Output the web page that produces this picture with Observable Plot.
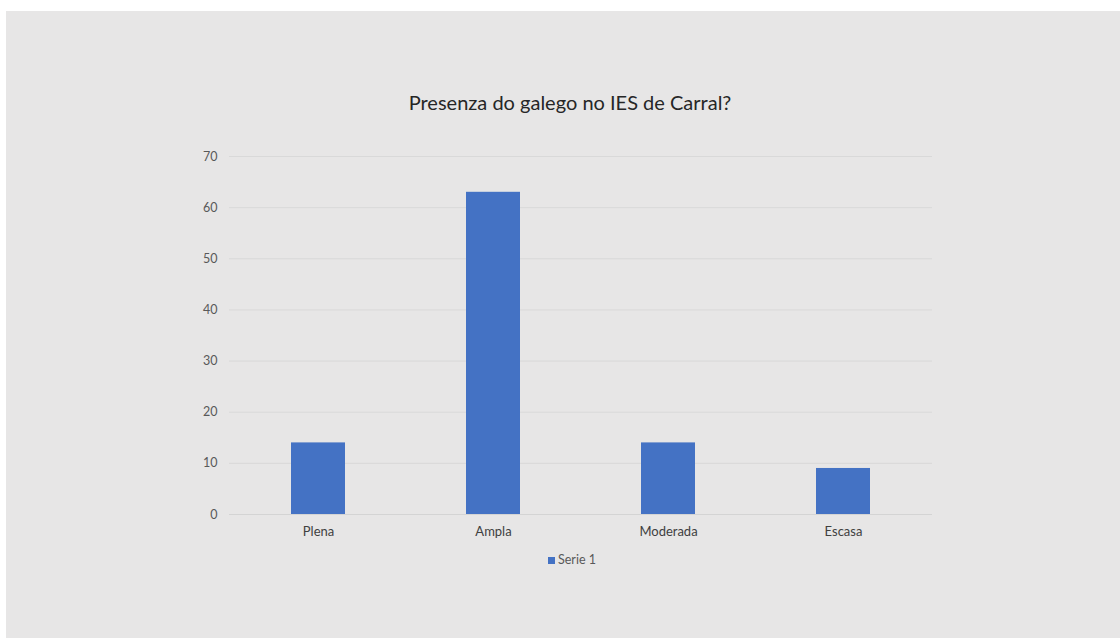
<!DOCTYPE html>
<html>
<head>
<meta charset="utf-8">
<script src="https://cdn.jsdelivr.net/npm/d3@7"></script>
<script src="https://cdn.jsdelivr.net/npm/@observablehq/plot@0.6"></script>
<style>
  html, body { margin: 0; padding: 0; background: #ffffff; }
  #frame { position: absolute; left: 6px; top: 11px; width: 1114px; height: 627px; background: #e7e6e6; overflow: hidden; font-family: Lato, "Open Sans", sans-serif; }
  #title { position: absolute; left: 14px; width: 1100px; top: 79px; text-align: center; font-size: 20px; line-height: 24px; color: #262626; }
  #chart { position: absolute; left: 0; top: 129px; }
  #legend { position: absolute; left: 0; width: 1132px; top: 542px; text-align: center; font-size: 12.5px; color: #595959; line-height: 14px; }
  #legend .sw { display: inline-block; width: 7px; height: 7px; background: #4472c4; margin-right: 3px; vertical-align: 0px; }
</style>
</head>
<body>
<div id="frame">
  <div id="title"></div>
  <div id="chart"></div>
  <div id="legend"></div>
</div>
<script>
const titleText = "Presenza do galego no IES de Carral?";
const categories = ["Plena", "Ampla", "Moderada", "Escasa"];
const values = [14, 63, 14, 9];
const seriesName = "Serie 1";
const yTicks = [0, 10, 20, 30, 40, 50, 60, 70];

const data = categories.map((c, i) => ({category: c, value: values[i]}));

document.getElementById("title").textContent = titleText;
const lg = document.getElementById("legend");
lg.innerHTML = '<span class="sw"></span>' + seriesName;

const chart = Plot.plot({
  width: 1114,
  height: 410,
  marginTop: 16,
  marginBottom: 36,
  marginLeft: 223,
  marginRight: 188,
  style: {background: "transparent", fontFamily: "Lato, 'Open Sans', sans-serif", fontSize: "12px"},
  x: {domain: categories, paddingInner: 0.69, paddingOuter: 0.345, label: null},
  y: {domain: [0, 70], label: null},
  marks: [
    Plot.ruleY(yTicks.filter(t => t > 0), {stroke: "#d9d9d9", strokeWidth: 1}),
    Plot.barY(data, {x: "category", y: "value", fill: "#4472c4"}),
    Plot.ruleY([0], {stroke: "#d4d4d4", strokeWidth: 1}),
    Plot.axisY({ticks: yTicks, tickSize: 0, tickPadding: 12, color: "#595959", fontSize: 12.5, label: null}),
    Plot.axisX({tickSize: 0, tickPadding: 12, color: "#404040", fontSize: 13, label: null})
  ]
});
document.getElementById("chart").appendChild(chart);
</script>
</body>
</html>
